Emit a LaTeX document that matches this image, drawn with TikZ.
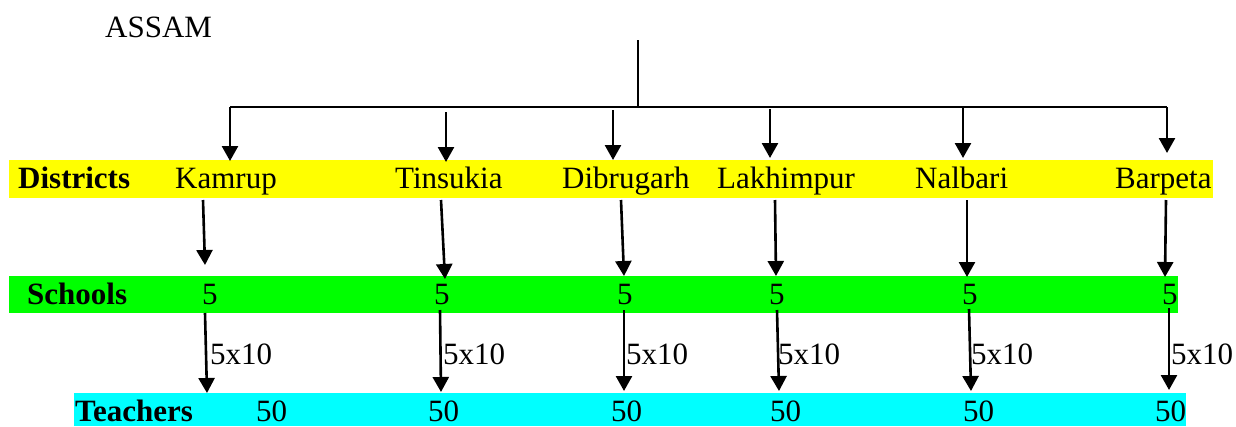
\documentclass[tikz,border=0pt]{standalone}
\usepackage{fontspec}
\setmainfont{Liberation Serif}
\usetikzlibrary{arrows.meta}
\begin{document}
\begin{tikzpicture}[x=1pt,y=-1pt,
  lbl/.style={inner sep=0pt,anchor=base west,font=\fontsize{31}{36}\selectfont},
  head/.style={lbl,font=\fontsize{31}{36}\selectfont\bfseries},
  band/.style={draw=none},
  tree/.style={line width=1.8pt},
  arr/.style={line width=2.6pt,-{Triangle[width=16pt,length=15pt]}}]
\useasboundingbox (0,0) rectangle (1236,426);

% coloured bands
\fill[band,fill={rgb,255:red,255;green,255;blue,0}] (9,160) rectangle (1213,198);
\fill[band,fill={rgb,255:red,0;green,255;blue,0}] (9,276) rectangle (1178,313);
\fill[band,fill={rgb,255:red,0;green,255;blue,255}] (74,393) rectangle (1186,426);

% title
\node[lbl] (assam) at (105,37) {ASSAM};

% row headings
\node[head] (districts) at (18,188) {Districts};
\node[head] (schools) at (27,304) {Schools};
\node[head] (teachers) at (75,421) {Teachers};

% district names
\node[lbl] (kamrup) at (175,188) {Kamrup};
\node[lbl] (tinsukia) at (395,188) {Tinsukia};
\node[lbl] (dibrugarh) at (562,188) {Dibrugarh};
\node[lbl] (lakhimpur) at (717,188) {Lakhimpur};
\node[lbl] (nalbari) at (915,188) {Nalbari};
\node[lbl] (barpeta) at (1115,188) {Barpeta};

% school counts
\node[lbl] (s1) at (202,304) {5};
\node[lbl] (s2) at (434,304) {5};
\node[lbl] (s3) at (617,304) {5};
\node[lbl] (s4) at (769,304) {5};
\node[lbl] (s5) at (962,304) {5};
\node[lbl] (s6) at (1162,304) {5};

% teacher counts
\node[lbl] (t1) at (256,421) {50};
\node[lbl] (t2) at (428,421) {50};
\node[lbl] (t3) at (611,421) {50};
\node[lbl] (t4) at (770,421) {50};
\node[lbl] (t5) at (963,421) {50};
\node[lbl] (t6) at (1155,421) {50};

% multiplication labels
\node[lbl] (m1) at (210,364) {5x10};
\node[lbl] (m2) at (443,364) {5x10};
\node[lbl] (m3) at (626,364) {5x10};
\node[lbl] (m4) at (778,364) {5x10};
\node[lbl] (m5) at (971,364) {5x10};
\node[lbl] (m6) at (1171,364) {5x10};

% tree from the state to the districts
\coordinate (root) at (638,40);
\coordinate (hub) at (638,107);
\coordinate (bl) at (230,107);
\coordinate (br) at (1167,107);
\draw[tree] (root) -- (hub);
\draw[tree] (bl) -- (br);

\coordinate (a1s) at (230,107);  \coordinate (a1e) at (230,161);
\coordinate (a2s) at (446,112);  \coordinate (a2e) at (446,162);
\coordinate (a3s) at (613,110);  \coordinate (a3e) at (613,160);
\coordinate (a4s) at (770,109);  \coordinate (a4e) at (770,158);
\coordinate (a5s) at (963,107);  \coordinate (a5e) at (963,158);
\coordinate (a6s) at (1167,107); \coordinate (a6e) at (1167,153);
\foreach \i in {1,...,6} \draw[arr] (a\i s) -- (a\i e);

% districts to schools
\coordinate (b1s) at (203,200);  \coordinate (b1e) at (205,265);
\coordinate (b2s) at (441,200);  \coordinate (b2e) at (445,279);
\coordinate (b3s) at (621,200);  \coordinate (b3e) at (624,276);
\coordinate (b4s) at (775,200);  \coordinate (b4e) at (776,276);
\coordinate (b5s) at (967,200);  \coordinate (b5e) at (967,277);
\coordinate (b6s) at (1166,200); \coordinate (b6e) at (1165,277);
\foreach \i in {1,...,6} \draw[arr] (b\i s) -- (b\i e);

% schools to teachers
\coordinate (c1s) at (205,313);  \coordinate (c1e) at (207,393);
\coordinate (c2s) at (440,310);  \coordinate (c2e) at (441,392);
\coordinate (c3s) at (624,310);  \coordinate (c3e) at (624,391);
\coordinate (c4s) at (777,310);  \coordinate (c4e) at (779,391);
\coordinate (c5s) at (969,309);  \coordinate (c5e) at (971,391);
\coordinate (c6s) at (1169,308); \coordinate (c6e) at (1169,390);
\foreach \i in {1,...,6} \draw[arr] (c\i s) -- (c\i e);
\end{tikzpicture}
\end{document}
